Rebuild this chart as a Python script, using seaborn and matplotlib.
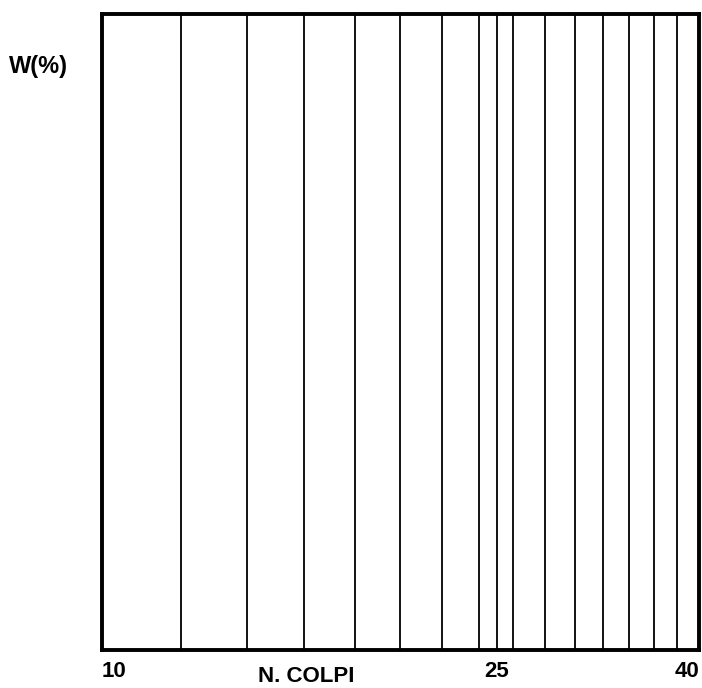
# Recreate the "N. COLPI" log grid sheet
import pandas as pd
import matplotlib
matplotlib.use("Agg")
import matplotlib.pyplot as plt
import seaborn as sns

# Data
grid_values = [12, 14, 16, 18, 20, 22, 24, 25, 26, 28, 30, 32, 34, 36, 38]
tick_values = [10, 25, 40]
tick_labels = ["10", "25", "40"]
x_range = [10, 40]

sns.set_style("white")
plt.rcParams['font.family'] = ['Liberation Sans', 'DejaVu Sans']
plt.rcParams['text.color'] = 'black'
plt.rcParams['xtick.color'] = 'black'

# each vertical line is a unit going from bottom to top of the box
rows = []
for i, v in enumerate(grid_values):
    rows.append({"line": i, "x": v, "y": 0.0})
    rows.append({"line": i, "x": v, "y": 1.0})
df = pd.DataFrame(rows)

fig = plt.figure(figsize=(7.02, 6.88), dpi=100)
ax = fig.add_axes([0.1453, 0.0552, 0.8504, 0.9245])

sns.lineplot(data=df, x="x", y="y", units="line", estimator=None,
             color="black", linewidth=1.3, ax=ax, legend=False)

ax.set_xscale("log")
ax.set_xlim(x_range)
ax.set_ylim(0, 1)
ax.set_yticks([])
ax.minorticks_off()
ax.set_xticks(tick_values)
ax.set_xticklabels(tick_labels, fontsize=16, fontweight="bold")
ax.tick_params(axis="x", length=0, pad=8, labelcolor="black")
labs = ax.get_xticklabels()
labs[0].set_horizontalalignment("left")
labs[2].set_horizontalalignment("right")
ax.set_xlabel("")
ax.set_ylabel("")

for s in ax.spines.values():
    s.set_visible(True)
    s.set_color("black")
    s.set_linewidth(2.8)

fig.text(306 / 702, 1 - 677 / 688, "N. COLPI",
         ha="center", va="center", fontsize=16, fontweight="bold")
fig.text(38 / 702, 1 - 67 / 688, "W(%)", ha="center", va="center",
         fontsize=17, fontweight="bold")

plt.savefig("out.png", dpi=100)
